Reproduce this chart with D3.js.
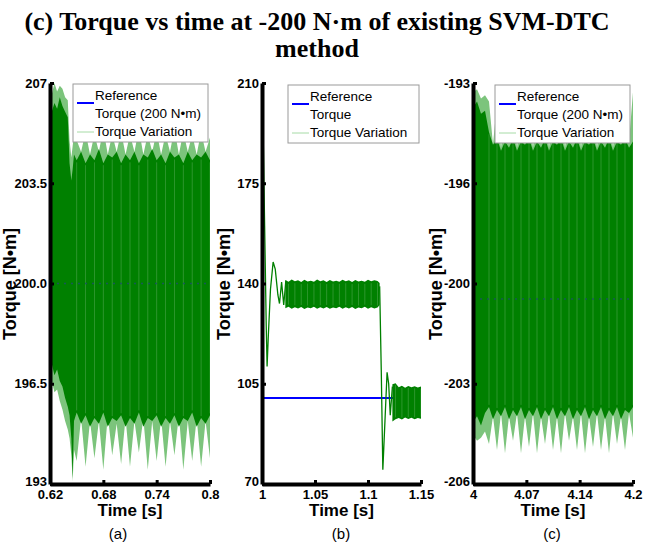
<!DOCTYPE html>
<html><head><meta charset="utf-8">
<script src="https://cdn.jsdelivr.net/npm/d3@7"></script>
<style>body{margin:0;background:#fff} svg{display:block}</style>
</head><body>
<script>
// ---------- Panel (a): 0.62 - 0.8 s ----------
const aTime = [0.620,0.622,0.625,0.628,0.631,0.634,0.637,0.640,0.642,0.644,0.6455,0.647,0.650,
  0.655,0.660,0.665,0.670,0.675,0.680,0.685,0.690,0.695,0.700,0.705,0.710,0.715,0.720,0.725,0.730,
  0.735,0.740,0.745,0.750,0.755,0.760,0.765,0.770,0.775,0.780,0.785,0.790,0.795,0.800];
const aHiDark = [206.4,206.0,206.3,206.1,206.5,206.2,206.0,205.8,204.2,203.6,204.0,204.5,204.3,
  204.6,204.2,204.5,204.3,204.7,204.2,204.5,204.4,204.6,204.2,204.5,204.3,204.6,204.2,204.5,204.4,
  204.7,204.3,204.5,204.2,204.6,204.4,204.5,204.2,204.6,204.3,204.5,204.4,204.6,204.3];
const aHiLight = [206.9,206.6,207.0,206.7,206.9,206.8,206.5,206.4,205.0,204.4,204.8,205.2,205.0,
  204.6,205.3,204.5,205.2,204.6,205.4,204.5,205.2,204.6,205.3,204.5,205.2,204.6,205.4,204.5,205.2,
  204.6,205.3,204.5,205.2,204.6,205.4,204.5,205.3,204.6,205.2,204.5,205.3,204.6,205.1];
const aLoDark = [196.9,197.2,196.8,197.0,196.6,196.4,196.0,195.7,195.4,194.6,193.2,195.2,195.5,
  195.1,195.4,195.0,195.3,195.1,195.5,195.0,195.3,195.2,195.4,195.0,195.3,195.1,195.5,195.0,195.3,
  195.2,195.4,195.0,195.3,195.1,195.4,195.0,195.3,195.2,195.5,195.0,195.3,195.1,195.4];
const aLoLight = [196.4,196.6,196.2,196.3,195.9,195.6,195.2,194.9,194.6,194.0,193.1,194.2,193.8,
  195.3,193.6,195.2,193.9,195.2,193.5,195.4,194.0,195.1,193.7,195.3,193.6,195.2,194.1,195.3,193.5,
  195.2,193.8,195.3,193.6,195.2,194.0,195.4,193.5,195.2,193.8,195.3,193.6,195.2,193.9];
const aRef = 200;
const aXTicks = [0.62,0.68,0.74,0.8], aXLabels = ["0.62","0.68","0.74","0.8"];
const aYTicks = [207,203.5,200,196.5,193], aYLabels = ["207","203.5","200.0","196.5","193"];

// ---------- Panel (b): 1 - 1.15 s ----------
const bLineT = [1.0000,1.0010,1.0025,1.0040,1.0048,1.0060,1.0080,1.0105,1.0125,1.0150,1.0165,1.0185,1.0205,1.0225,
  1.1110,1.1125,1.1140,1.1160,1.1180,1.1195,1.1210,1.1230];
const bLineV = [206,195,160,125,111,122,138,147.5,145,136,133,140.5,132.5,141,
  139,110,75,92,109,105,94,104];
const bBand1T = [1.022,1.025,1.028,1.031,1.034,1.037,1.040,1.043,1.046,1.049,1.052,1.055,1.058,1.061,1.064,
  1.067,1.070,1.073,1.076,1.079,1.082,1.085,1.088,1.091,1.094,1.097,1.100,1.103,1.106,1.109,1.111];
const bBand1Hi = [141.2,140.6,141.4,140.8,141.1,140.5,141.3,140.7,141.0,140.6,141.4,140.8,141.1,140.5,141.2,
  140.7,141.0,140.6,141.3,140.8,141.1,140.5,141.2,140.7,141.0,140.6,141.3,140.8,141.1,140.9,140.2];
const bBand1Lo = [131.4,131.9,131.2,131.7,131.3,131.8,131.1,131.6,131.4,131.9,131.2,131.7,131.3,131.8,131.2,
  131.6,131.4,131.9,131.2,131.7,131.3,131.8,131.1,131.6,131.4,131.9,131.2,131.7,131.3,131.6,132.5];
const bBand2T = [1.123,1.126,1.129,1.132,1.135,1.138,1.141,1.144,1.147,1.150];
const bBand2Hi = [104.8,105.2,103.8,104.3,103.6,104.2,103.8,104.1,103.7,104.0];
const bBand2Lo = [91.8,92.6,93.0,92.5,93.2,92.7,93.1,92.6,93.0,92.8];
const bRef = 100;
const bXTicks = [1,1.05,1.1,1.15], bXLabels = ["1","1.05","1.1","1.15"];
const bYTicks = [210,175,140,105,70], bYLabels = ["210","175","140","105","70"];

// ---------- Panel (c): 4 - 4.2 s ----------
const cTime = [4.000,4.005,4.010,4.015,4.020,4.025,4.030,4.035,4.040,4.045,4.050,4.055,4.060,4.065,4.070,
  4.075,4.080,4.085,4.090,4.095,4.100,4.105,4.110,4.115,4.120,4.125,4.130,4.135,4.140,4.145,4.150,
  4.155,4.160,4.165,4.170,4.175,4.180,4.185,4.190,4.195,4.200];
const cHiDark = [-193.8,-193.6,-194.0,-193.9,-194.6,-195.0,-194.8,-195.2,-194.9,-195.1,-194.8,-195.2,-194.9,-195.0,-194.8,
  -195.2,-194.9,-195.1,-194.8,-195.2,-194.9,-195.0,-194.8,-195.2,-194.9,-195.1,-194.8,-195.2,-194.9,-195.0,-194.8,
  -195.2,-194.9,-195.1,-194.8,-195.2,-194.9,-195.0,-194.8,-195.1,-194.9];
const cHiLight = [-193.3,-193.2,-193.5,-193.4,-193.6,
  -195.0,-193.6,-195.1,-193.8,-195.0,-193.5,-195.1,-193.9,-195.0,-193.6,
  -195.1,-193.7,-195.0,-193.5,-195.1,-193.8,-195.0,-193.6,-195.1,-193.9,
  -195.0,-193.5,-195.1,-193.7,-195.0,-193.6,-195.1,-193.8,-195.0,-193.5,
  -195.1,-193.7,-195.0,-193.6,-194.9,-193.3];
const cLoDark = [-204.0,-203.8,-204.1,-203.7,-203.5,-203.9,-203.6,-203.8,-203.5,-203.9,-203.6,-203.8,-203.5,-203.9,-203.6,
  -203.8,-203.5,-203.9,-203.6,-203.8,-203.5,-203.9,-203.6,-203.8,-203.5,-203.9,-203.6,-203.8,-203.5,-203.9,-203.6,
  -203.8,-203.5,-203.9,-203.6,-203.8,-203.5,-203.9,-203.6,-203.7,-203.5];
const cLoLight = [-204.4,-204.6,-204.5,-204.3,-204.7,
  -203.8,-204.9,-203.7,-205.0,-203.8,-204.6,-203.7,-205.0,-203.8,-204.8,
  -203.7,-205.0,-203.8,-204.7,-203.7,-204.9,-203.8,-205.0,-203.7,-204.6,
  -203.8,-204.9,-203.7,-205.0,-203.8,-204.8,-203.7,-204.9,-203.8,-205.0,
  -203.7,-204.7,-203.8,-204.9,-203.7,-204.5];
const cRef = -200;
const cXTicks = [4,4.0667,4.1333,4.2], cXLabels = ["4","4.07","4.14","4.2"];
const cYTicks = [-193,-196.25,-199.5,-202.75,-206], cYLabels = ["-193","-196","-200","-203","-206"];

// ---------- text ----------
const titleLines = ["(c) Torque vs time at -200 N\u00b7m of existing SVM-DTC", "method"];
const yLabel = "Torque [N\u2022m]", xLabel = "Time [s]";
const legendA = ["Reference", "Torque (200 N\u2022m)", "Torque Variation"];
const legendB = ["Reference", "Torque", "Torque Variation"];
const subLabels = ["(a)", "(b)", "(c)"];

// ---------- drawing ----------
const W = 661, H = 545;
const DARK = "#008000", LIGHT = "#7cc47c", BLUE = "#0000ff";
const svg = d3.select("body").append("svg").attr("width", W).attr("height", H)
  .style("font-family", "'Liberation Sans', Arial, sans-serif");

svg.selectAll("text.title").data(titleLines).enter().append("text")
  .attr("x", 317).attr("y", (d, i) => 30 + i * 27)
  .attr("text-anchor", "middle")
  .style("font-family", "'Liberation Serif', 'Times New Roman', serif")
  .style("font-weight", "bold").style("font-size", "26px").text(d => d);

const Y_TOP = 83, Y_BOT = 484;

function panel(o) {
  const g = svg.append("g");
  const x = d3.scaleLinear().domain(o.xDom).range([o.x0, o.x1]);
  const y = d3.scaleLinear().domain(o.yDom).range([Y_BOT, Y_TOP]);

  g.append("line").attr("x1", x(o.xDom[0])).attr("x2", x(o.xDom[1]))
    .attr("y1", y(o.ref)).attr("y2", y(o.ref))
    .attr("stroke", BLUE).attr("stroke-width", 2);

  function stripes(t, lo, hi, from) {
    const idx = d3.range(from, t.length, 2);
    g.selectAll(null).data(idx).enter().append("line")
      .attr("x1", i => x(t[i])).attr("x2", i => x(t[i]))
      .attr("y1", i => y(lo[i]) - 2).attr("y2", i => y(hi[i]) + 2)
      .attr("stroke", "#ffffff").attr("stroke-width", 0.8).attr("opacity", 0.22);
  }

  if (o.env) {
    const e = o.env;
    const idx = d3.range(e.t.length);
    g.append("path").attr("fill", LIGHT)
      .attr("d", d3.area().x(i => x(e.t[i])).y0(i => y(e.lo2[i])).y1(i => y(e.hi2[i]))(idx));
    g.append("path").attr("fill", DARK)
      .attr("d", d3.area().x(i => x(e.t[i])).y0(i => y(e.lo[i])).y1(i => y(e.hi[i]))(idx));
    stripes(e.t, e.lo, e.hi, e.from);
    g.append("line").attr("x1", x(o.xDom[0])).attr("x2", x(o.xDom[1]))
      .attr("y1", y(o.ref)).attr("y2", y(o.ref))
      .attr("stroke", "#1d4f6e").attr("stroke-width", 1.5)
      .attr("stroke-dasharray", "2,5").attr("opacity", 0.8);
  }
  if (o.bands) {
    o.bands.forEach(b => {
      const idx = d3.range(b.t.length);
      g.append("path").attr("fill", DARK)
        .attr("d", d3.area().x(i => x(b.t[i])).y0(i => y(b.lo[i])).y1(i => y(b.hi[i]))(idx));
      stripes(b.t, b.lo, b.hi, 1);
    });
    const idx = d3.range(o.line.t.length);
    g.append("path").attr("fill", "none").attr("stroke", DARK).attr("stroke-width", 1.3)
      .attr("d", d3.line().x(i => x(o.line.t[i])).y(i => y(o.line.v[i]))(idx.slice(0, 14)));
    g.append("path").attr("fill", "none").attr("stroke", DARK).attr("stroke-width", 1.3)
      .attr("d", d3.line().x(i => x(o.line.t[i])).y(i => y(o.line.v[i]))(idx.slice(14)));
  }

  // axes
  const ya = d3.axisLeft(y).tickValues(o.yTicks).tickFormat((d, i) => o.yLabels[i])
    .tickSizeInner(-4).tickSizeOuter(0).tickPadding(3);
  const xa = d3.axisBottom(x).tickValues(o.xTicks).tickFormat((d, i) => o.xLabels[i])
    .tickSizeInner(-4).tickSizeOuter(0).tickPadding(6);
  const gy = g.append("g").attr("transform", `translate(${o.x0},0)`).call(ya);
  const gx = g.append("g").attr("transform", `translate(0,${Y_BOT})`).call(xa);
  [gy, gx].forEach(a => {
    a.select(".domain").attr("stroke", "#000").attr("stroke-width", 4);
    a.selectAll(".tick line").attr("stroke", "#000").attr("stroke-width", 3);
    a.selectAll(".tick text").attr("fill", "#000")
      .style("font-family", "'Liberation Sans', Arial, sans-serif")
      .style("font-size", "13px").style("font-weight", "bold");
  });
  gy.selectAll(".tick text").filter((d, i) => i === o.yTicks.length - 1).attr("dy", "0.1em");

  // axis labels
  g.append("text").attr("transform", `translate(${o.yLabX},284) rotate(-90)`)
    .attr("text-anchor", "middle").style("font-size", "18px").style("font-weight", "bold")
    .text(yLabel);
  g.append("text").attr("x", (o.x0 + o.x1) / 2).attr("y", 516)
    .attr("text-anchor", "middle").style("font-size", "17px").style("font-weight", "bold")
    .text(xLabel);
  g.append("text").attr("x", o.subX).attr("y", 539)
    .attr("text-anchor", "middle").style("font-size", "15px")
    .text(o.sub);

  // legend
  const L = o.leg;
  const lg = g.append("g").attr("transform", `translate(${L.x},${L.y})`);
  lg.append("rect").attr("x", 0).attr("y", 0).attr("width", L.w).attr("height", 58)
    .attr("fill", "#fff").attr("stroke", "#9a9a9a").attr("stroke-width", 1);
  lg.append("line").attr("x1", 4).attr("x2", 21).attr("y1", 19).attr("y2", 19)
    .attr("stroke", BLUE).attr("stroke-width", 2);
  lg.append("line").attr("x1", 4).attr("x2", 21).attr("y1", 48).attr("y2", 48)
    .attr("stroke", "#a6dba6").attr("stroke-width", 1);
  lg.selectAll("text").data(L.items).enter().append("text")
    .attr("x", 22).attr("y", (d, i) => 16 + i * 18)
    .style("font-size", "13.5px").text(d => d);
}

panel({ xDom: [0.62, 0.8], yDom: [193, 207], x0: 50, x1: 210, ref: aRef,
  env: { t: aTime, hi: aHiDark, lo: aLoDark, hi2: aHiLight, lo2: aLoLight, from: 12 },
  yTicks: aYTicks, yLabels: aYLabels, xTicks: aXTicks, xLabels: aXLabels,
  yLabX: 16, subX: 118, sub: subLabels[0],
  leg: { x: 73, y: 84, w: 135, items: legendA } });

panel({ xDom: [1, 1.15], yDom: [70, 210], x0: 262, x1: 421, ref: bRef,
  bands: [{ t: bBand1T, hi: bBand1Hi, lo: bBand1Lo }, { t: bBand2T, hi: bBand2Hi, lo: bBand2Lo }],
  line: { t: bLineT, v: bLineV },
  yTicks: bYTicks, yLabels: bYLabels, xTicks: bXTicks, xLabels: bXLabels,
  yLabX: 230, subX: 341, sub: subLabels[1],
  leg: { x: 288, y: 85, w: 131, items: legendB } });

panel({ xDom: [4, 4.2], yDom: [-206, -193], x0: 473, x1: 633, ref: cRef,
  env: { t: cTime, hi: cHiDark, lo: cLoDark, hi2: cHiLight, lo2: cLoLight, from: 4 },
  yTicks: cYTicks, yLabels: cYLabels, xTicks: cXTicks, xLabels: cXLabels,
  yLabX: 442, subX: 552, sub: subLabels[2],
  leg: { x: 495, y: 85, w: 135, items: legendA } });
</script>
</body></html>
